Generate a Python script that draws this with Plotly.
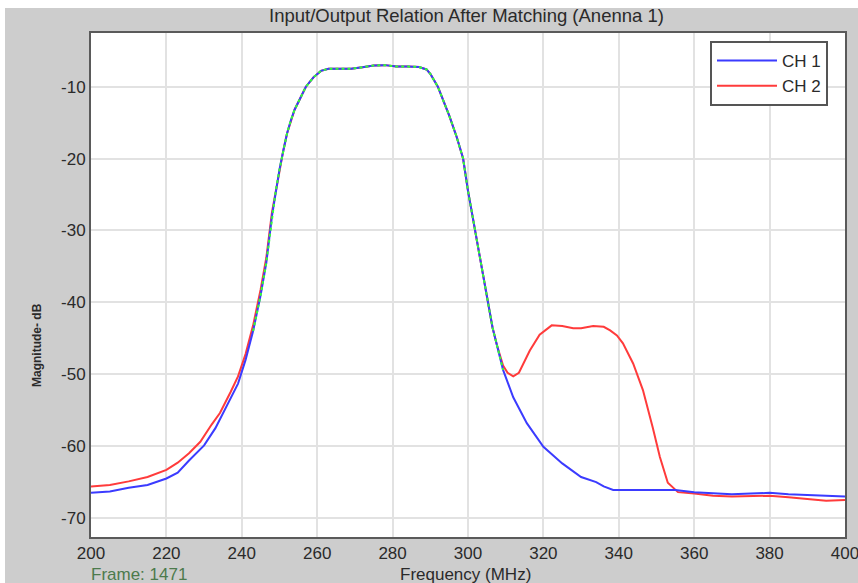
import plotly.graph_objects as go

# Channel 1 magnitude response (MHz, dB)
ch1_freq = [200, 205, 210, 215, 220, 223, 226, 230, 233, 236, 239, 241, 243, 245,
            246.5, 248, 249, 250, 251, 252, 253, 254, 255.5, 257, 259, 261, 263,
            266, 269, 272, 275, 278, 281, 284, 287, 289, 290, 292, 293.5, 295, 297,
            298.7, 300, 301, 302, 303.5, 305.3, 306.5, 307.7, 309.3, 312, 315.6,
            320, 325, 330, 332, 334, 336, 338.5, 345, 355, 360, 365, 370, 375, 380,
            385, 390, 395, 400]
ch1_db = [-66.5, -66.3, -65.8, -65.4, -64.5, -63.7, -62.0, -59.9, -57.5, -54.5, -51.3,
          -48.0, -44.0, -39.0, -34.5, -28.0, -24.5, -21.5, -18.9, -16.5, -14.7, -13.2,
          -11.6, -10.0, -8.7, -7.8, -7.5, -7.45, -7.5, -7.3, -7.05, -7.0, -7.2, -7.2,
          -7.25, -7.6, -8.2, -10.0, -11.9, -14.0, -17.0, -20.0, -24.5, -27.5, -30.3,
          -34.5, -40.0, -43.5, -46.0, -49.4, -53.2, -56.8, -60.1, -62.4, -64.3, -64.7,
          -65.0, -65.6, -66.1, -66.1, -66.1, -66.4, -66.6, -66.7, -66.6, -66.5, -66.7,
          -66.8, -67.0, -67.0]

# Channel 2 magnitude response (MHz, dB)
ch2_freq = [200, 205, 210, 215, 220, 223, 226, 229, 232, 234.2, 237, 239, 241, 243,
            245, 246.5, 248, 249, 250, 251, 252, 253, 254, 255.5, 257, 259, 261, 263,
            266, 269, 272, 275, 278, 281, 284, 287, 289, 290, 292, 293.5, 295, 297,
            298.7, 300, 301, 302, 303.5, 305.3, 306.5, 307.7, 309.3, 310.5, 312,
            313.5, 316.4, 319, 322.2, 325, 327.9, 330, 333.2, 336, 337.7, 339.5,
            341.1, 343.8, 346.4, 349, 350.9, 353, 355.7, 360, 365, 370, 375, 380,
            385, 390, 395, 400]
ch2_db = [-65.6, -65.4, -64.9, -64.3, -63.3, -62.3, -61.0, -59.4, -57.0, -55.4, -52.5,
          -50.3, -47.2, -43.2, -38.2, -33.8, -27.5, -24.5, -21.5, -18.9, -16.5, -14.7,
          -13.2, -11.6, -10.0, -8.7, -7.8, -7.5, -7.45, -7.5, -7.3, -7.05, -7.0, -7.2,
          -7.2, -7.25, -7.6, -8.2, -10.0, -11.9, -14.0, -17.0, -20.0, -24.5, -27.5,
          -30.3, -34.5, -40.0, -43.5, -46.0, -48.8, -49.8, -50.3, -49.8, -46.7, -44.5,
          -43.2, -43.3, -43.6, -43.6, -43.3, -43.4, -43.9, -44.6, -45.7, -48.5, -52.2,
          -57.4, -61.5, -65.1, -66.4, -66.6, -66.9, -67.0, -66.9, -66.9, -67.1, -67.3,
          -67.6, -67.5]

# Band where both channels coincide (highlighted with a dotted trace)
overlap_band = (242, 309.5)

x_ticks = [200, 220, 240, 260, 280, 300, 320, 340, 360, 380, 400]
y_ticks = [-10, -20, -30, -40, -50, -60, -70]

title_text = "Input/Output Relation After Matching (Anenna 1)"
x_title = "Frequency (MHz)"
y_title = "Magnitude- dB"
frame_text = "Frame: 1471"

FONT = "Liberation Sans, Arial, sans-serif"
W, H = 858, 583
L, R, T, B = 91, 13, 33, 46
pw, ph = W - L - R, H - T - B

ov = [(f, v) for f, v in zip(ch1_freq, ch1_db) if overlap_band[0] <= f <= overlap_band[1]]

fig = go.Figure()
fig.add_trace(go.Scatter(x=ch2_freq, y=ch2_db, mode="lines", name="CH 2",
                         line=dict(color="#ff3b3b", width=2)))
fig.add_trace(go.Scatter(x=ch1_freq, y=ch1_db, mode="lines", name="CH 1",
                         line=dict(color="#3b3bff", width=2)))
fig.add_trace(go.Scatter(x=[p[0] for p in ov], y=[p[1] for p in ov], mode="lines",
                         showlegend=False, hoverinfo="skip",
                         line=dict(color="#33ff33", width=2, dash="dot")))


def px_x(p):
    return (p - L) / pw


def px_y(p):
    return (H - B - p) / ph


axis_common = dict(
    showgrid=True, gridcolor="#e2e2e2", gridwidth=2,
    showline=True, linecolor="#5a5a5a", linewidth=2, mirror=True,
    ticks="", zeroline=False, automargin=False, ticklabeloverflow="allow",
    tickfont=dict(family=FONT, size=17, color="#2a2a2a"),
)

fig.update_layout(
    width=W, height=H,
    margin=dict(l=L, r=R, t=T, b=B, autoexpand=False),
    paper_bgcolor="#cdcdcd",
    plot_bgcolor="white",
    font=dict(family=FONT, size=14, color="#333333"),
    showlegend=True,
    legend=dict(
        x=px_x(710), y=px_y(41), xanchor="left", yanchor="top",
        bgcolor="white", bordercolor="#555555", borderwidth=2,
        font=dict(family=FONT, size=17, color="#2a2a2a"),
        traceorder="reversed", itemwidth=60, tracegroupgap=0,
        entrywidth=120, entrywidthmode="pixels",
    ),
    xaxis=dict(range=[200, 400], tickmode="array", tickvals=x_ticks,
               ticktext=[str(t) for t in x_ticks], **axis_common),
    yaxis=dict(range=[-72.64, -2.53], tickmode="array", tickvals=y_ticks,
               ticktext=[str(t) for t in y_ticks], **axis_common),
    shapes=[
        dict(type="rect", xref="paper", yref="paper", x0=px_x(0), x1=px_x(W),
             y0=px_y(8), y1=px_y(0), fillcolor="white", line=dict(width=0)),
        dict(type="rect", xref="paper", yref="paper", x0=px_x(0), x1=px_x(5),
             y0=px_y(H), y1=px_y(0), fillcolor="white", line=dict(width=0)),
    ],
    annotations=[
        dict(text=title_text, xref="paper", yref="paper", x=px_x(466), y=px_y(16),
             xanchor="center", yanchor="middle", showarrow=False,
             font=dict(family=FONT, size=18.5, color="#2a2a2a")),
        dict(text=x_title, xref="paper", yref="paper", x=px_x(465), y=px_y(574),
             xanchor="center", yanchor="middle", showarrow=False,
             font=dict(family=FONT, size=17, color="#2a2a2a")),
        dict(text=frame_text, xref="paper", yref="paper", x=px_x(89), y=px_y(574),
             xanchor="left", yanchor="middle", showarrow=False,
             font=dict(family=FONT, size=17, color="#4c7a4c")),
        dict(text="<b>" + y_title + "</b>", xref="paper", yref="paper", x=px_x(37),
             y=px_y(345), xanchor="center", yanchor="middle", showarrow=False,
             textangle=-90, font=dict(family=FONT, size=12, color="#2a2a2a")),
    ],
)

fig.write_html("out.html")
